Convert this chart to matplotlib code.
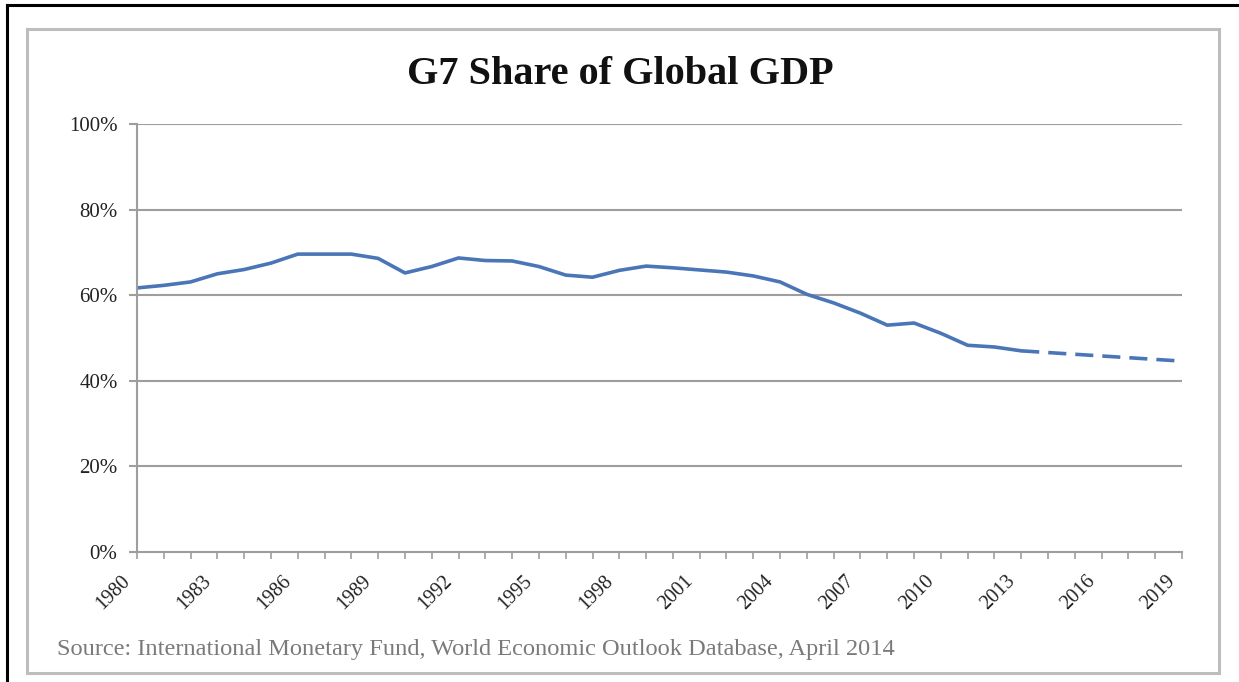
import numpy as np
import matplotlib
matplotlib.use('Agg')
import matplotlib.pyplot as plt
import matplotlib.transforms as mtransforms
from matplotlib.patches import Rectangle
from matplotlib.lines import Line2D

# G7 share of world GDP, IMF WEO April 2014 (2014-2019 are projections)
years_hist = list(range(1980, 2014))
share_hist = [61.7, 62.3, 63.1, 65.0, 66.0, 67.5, 69.6, 69.6, 69.6, 68.6,
              65.2, 66.7, 68.7, 68.1, 68.0, 66.7, 64.7, 64.2, 65.8, 66.8,
              66.4, 65.9, 65.4, 64.5, 63.1, 60.2, 58.2, 55.8, 53.0, 53.5,
              51.1, 48.3, 47.9, 47.0]
years_proj = list(range(2013, 2020))
share_proj = [47.0, 46.6, 46.2, 45.8, 45.4, 45.0, 44.6]

tick_years = list(range(1980, 2020, 3))
y_ticks = [0, 20, 40, 60, 80, 100]

serif = ['Liberation Serif', 'DejaVu Serif']
line_col = '#4a76b8'
grid_col = '#9e9e9e'

fig = plt.figure(figsize=(12.39, 6.82), dpi=100)
W, H = 1239, 682

# outer black edges (top and left) and the grey chart frame
fig.add_artist(Line2D([7 / W, 7 / W], [0, 1 - 5 / H], color='black', lw=2.2,
                      transform=fig.transFigure))
fig.add_artist(Line2D([7 / W, 1], [1 - 5 / H, 1 - 5 / H], color='black', lw=2.2,
                      transform=fig.transFigure))
fig.add_artist(Rectangle((27 / W, 1 - 673 / H), (1219 - 27) / W, (673 - 29) / H,
                         fill=False, edgecolor='#bdbdbd', lw=2.2,
                         transform=fig.transFigure))

ax = fig.add_axes([137 / W, 1 - 552 / H, (1182 - 137) / W, (552 - 124) / H])
ax.plot(years_hist, share_hist, color=line_col, lw=2.6, solid_capstyle='round',
        solid_joinstyle='round')
ax.plot(years_proj, share_proj, color=line_col, lw=2.6, dashes=(5, 2.5))

ax.set_xlim(1980, 2019)
ax.set_ylim(0, 100)
ax.set_yticks(y_ticks)
ax.set_yticklabels(['%d%%' % v for v in y_ticks], fontfamily=serif,
                   fontsize=15, color='#222222')
ax.set_xticks(range(1980, 2020), minor=True)
ax.set_xticks(tick_years)
ax.set_xticklabels([str(y) for y in tick_years], rotation=45, ha='right',
                   rotation_mode='anchor', fontfamily=serif, fontsize=14.5,
                   color='#222222')

for v in y_ticks[1:]:
    ax.axhline(v, color=grid_col, lw=1.5, zorder=0)

for side in ['top', 'right']:
    ax.spines[side].set_visible(False)
for side in ['left', 'bottom']:
    ax.spines[side].set_color(grid_col)
    ax.spines[side].set_linewidth(1.5)

ax.tick_params(axis='y', length=6, width=1.5, color=grid_col, pad=8)
ax.tick_params(axis='x', which='both', length=5, width=1.2, color=grid_col,
               direction='out', pad=9)

# nudge the slanted year labels to the left of their ticks
shift = mtransforms.ScaledTranslation(-16 / 100, 0, fig.dpi_scale_trans)
for lab in ax.xaxis.get_majorticklabels():
    lab.set_transform(lab.get_transform() + shift)

fig.text(620 / W, 1 - 75 / H, 'G7 Share of Global GDP', ha='center',
         va='center', fontfamily=serif, fontweight='bold', fontsize=29,
         color='#111111')
fig.text(57 / W, 1 - 650 / H,
         'Source: International Monetary Fund, World Economic Outlook Database, April 2014',
         ha='left', va='center', fontfamily=serif, fontsize=17.6, color='#7a7a7a')

fig.savefig('out.png', dpi=100)
